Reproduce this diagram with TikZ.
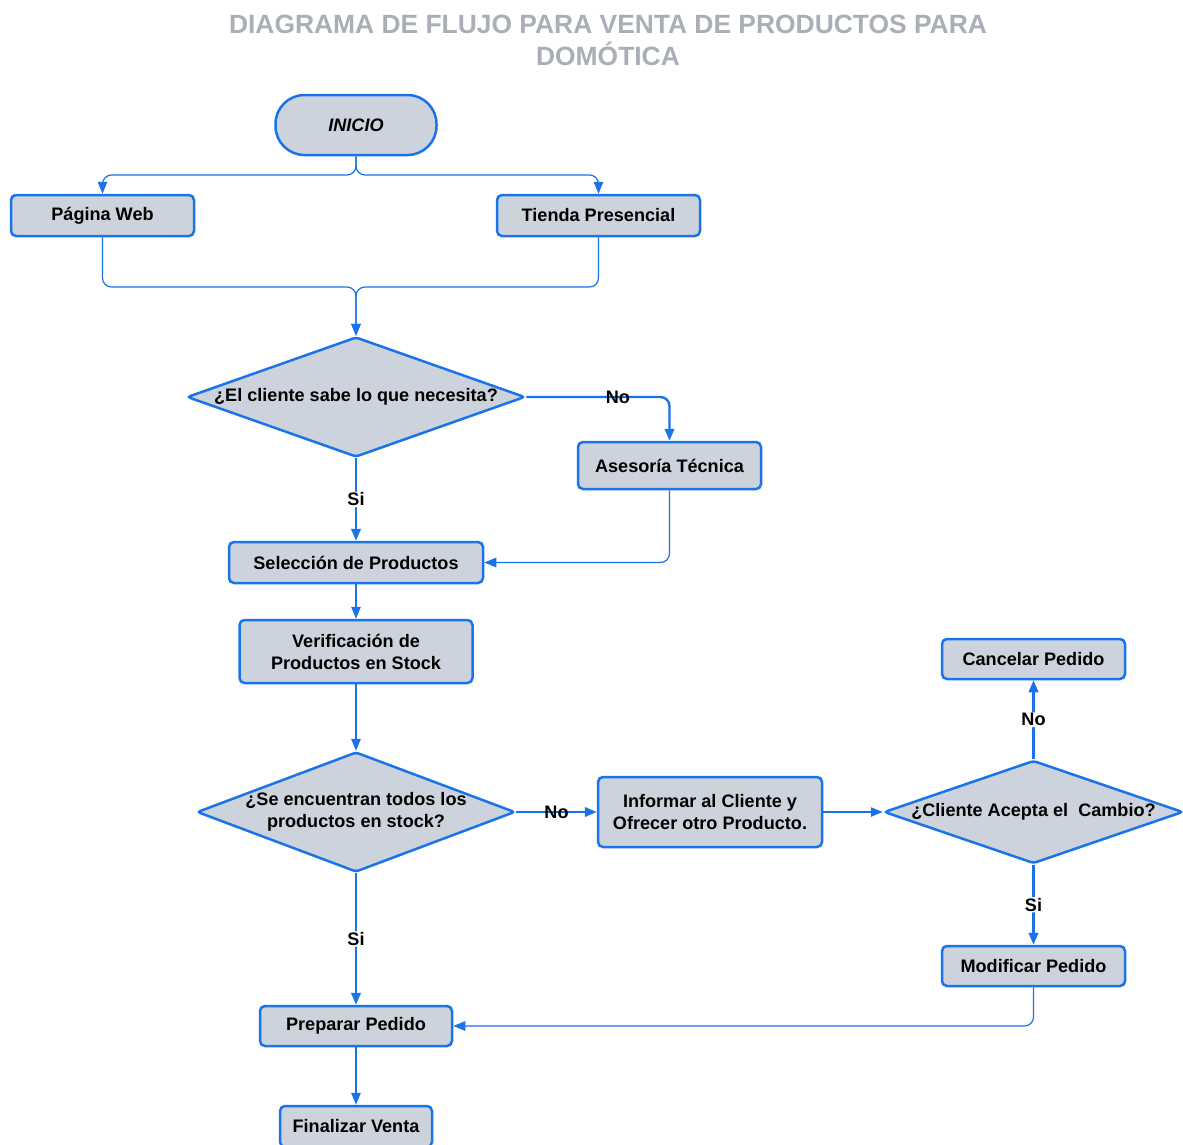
\documentclass[tikz,border=0pt]{standalone}
\usepackage{fontspec}
\setmainfont{Liberation Sans}
\usetikzlibrary{shapes.geometric,arrows.meta}
\definecolor{fblue}{HTML}{1A73E8}
\definecolor{ffill}{HTML}{CDD3DC}
\definecolor{ftitle}{HTML}{A9AEB7}
\begin{document}
\begin{tikzpicture}[x=1pt,y=-1pt,
 box/.style={draw=fblue, fill=ffill, line width=2.5pt, rounded corners=5pt, inner sep=0pt, font=\bfseries\fontsize{18.1}{22}\selectfont, align=center},
 dia/.style={diamond, draw=fblue, fill=ffill, line width=2.5pt, inner sep=0pt, rounded corners=3pt},
 dtxt/.style={font=\bfseries\fontsize{18.1}{22}\selectfont, align=center, inner sep=0pt},
 lbl/.style={font=\bfseries\fontsize{18.1}{22}\selectfont, inner sep=1pt},
 thinarr/.style={draw=fblue, line width=1.2pt, rounded corners=9pt, -{Triangle[length=12pt,width=9.5pt]}},
 thickarr/.style={thinarr, line width=2.4pt},
]
\path[use as bounding box, fill=white] (0,0) rectangle (1183,1144);

% title
\node[font=\bfseries\fontsize{26.4}{32}\selectfont, text=ftitle, align=center] (title) at (608,40)
  {DIAGRAMA DE FLUJO PARA VENTA DE PRODUCTOS PARA\\DOMÓTICA};

% nodes
\node[box, rounded corners=29pt, minimum width=161pt, minimum height=60pt, font=\bfseries\itshape\fontsize{18.1}{22}\selectfont] (ini) at (356,125) {INICIO};
\node[box, minimum width=183pt, minimum height=41pt] (pw) at (102.5,215.5) {Página Web};
\node[box, minimum width=203pt, minimum height=41pt] (tp) at (598.5,215.5) {Tienda Presencial};

\node[dia, minimum width=338pt, minimum height=120pt] (d1) at (356,397) {};
\node[dtxt] (d1t) at (d1) {¿El cliente sabe lo que necesita?};

\node[box, minimum width=183pt, minimum height=47pt] (as) at (669.5,465.5) {Asesoría Técnica};
\node[box, minimum width=254pt, minimum height=41pt] (sel) at (356,562.5) {Selección de Productos};
\node[box, minimum width=233pt, minimum height=63pt] (ver) at (356,651.5) {Verificación de\\Productos en Stock};

\node[dia, minimum width=318pt, minimum height=120pt] (d2) at (356,812) {};
\node[dtxt] (d2t) at (d2) {¿Se encuentran todos los\\productos en stock?};

\node[box, minimum width=224pt, minimum height=70pt] (inf) at (710,812) {Informar al Cliente y\\Ofrecer otro Producto.};

\node[dia, minimum width=299pt, minimum height=103pt] (d3) at (1033.5,812) {};
\node[dtxt] (d3t) at (d3) {¿Cliente Acepta el\ \ Cambio?};

\node[box, minimum width=183pt, minimum height=40pt] (can) at (1033.5,659) {Cancelar Pedido};
\node[box, minimum width=183pt, minimum height=40pt] (mod) at (1033.5,966) {Modificar Pedido};
\node[box, minimum width=192pt, minimum height=40pt] (prep) at (356,1026) {Preparar Pedido};
\node[box, minimum width=152pt, minimum height=41pt] (fin) at (356,1126.5) {Finalizar Venta};

% junction points
\coordinate (m0) at (356,175);
\coordinate (m1) at (356,287);

% connectors
\draw[thinarr] (ini.south) -- (m0) -| (pw.north);
\draw[thinarr] (ini.south) -- (m0) -| (tp.north);
\draw[thinarr] (pw.south) |- (m1) -- (d1.north);
\draw[thinarr] (tp.south) |- (m1) -- (d1.north);

\draw[thickarr] (d1.east) -| node[lbl, pos=0.32] {No} (as.north);
\draw[thickarr] (d1.south) -- node[lbl, fill=white] {Si} (sel.north);
\draw[thinarr] (as.south) |- (sel.east);
\draw[thinarr] (sel.south) -- (ver.north);
\draw[thinarr] (ver.south) -- (d2.north);

\draw[thickarr] (d2.east) -- node[lbl] {No} (inf.west);
\draw[thinarr] (inf.east) -- (d3.west);
\draw[thickarr] (d3.north) -- node[lbl, fill=white] {No} (can.south);
\draw[thickarr] (d3.south) -- node[lbl, fill=white] {Si} (mod.north);
\draw[thickarr] (d2.south) -- node[lbl, fill=white] {Si} (prep.north);
\draw[thinarr] (mod.south) |- (prep.east);
\draw[thinarr] (prep.south) -- (fin.north);
\end{tikzpicture}
\end{document}
